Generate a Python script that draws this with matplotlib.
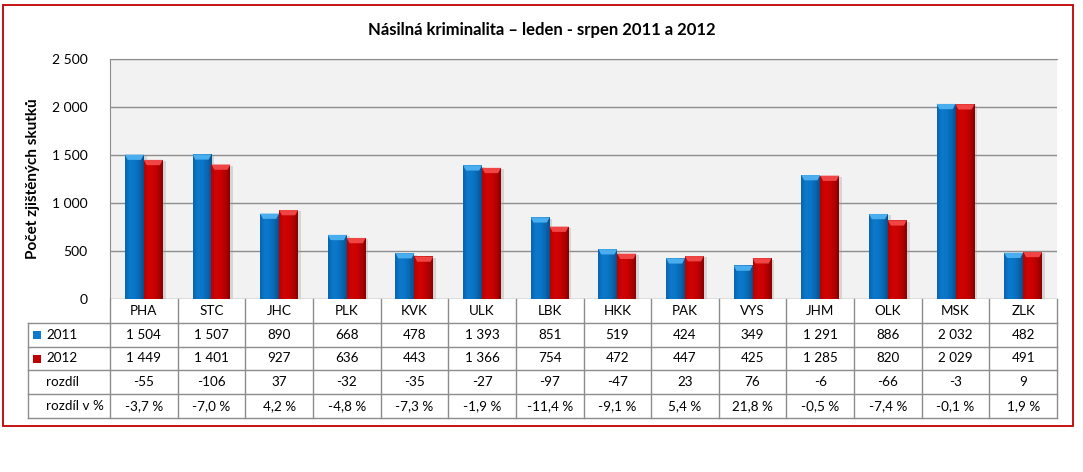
import numpy as np
import matplotlib
matplotlib.use("Agg")
import matplotlib.pyplot as plt
from matplotlib.patches import Rectangle, Polygon
from matplotlib.colors import LinearSegmentedColormap
import matplotlib.patheffects as pe
import matplotlib.transforms as mtransforms

plt.rcParams['font.family'] = ['Lato', 'DejaVu Sans']

title = "Násilná kriminalita – leden - srpen 2011 a 2012"
ylabel = "Počet zjištěných skutků"
regions = ["PHA", "STC", "JHC", "PLK", "KVK", "ULK", "LBK", "HKK", "PAK", "VYS", "JHM", "OLK", "MSK", "ZLK"]
v2011 = [1504, 1507, 890, 668, 478, 1393, 851, 519, 424, 349, 1291, 886, 2032, 482]
v2012 = [1449, 1401, 927, 636, 443, 1366, 754, 472, 447, 425, 1285, 820, 2029, 491]
diff = ["-55", "-106", "37", "-32", "-35", "-27", "-97", "-47", "23", "76", "-6", "-66", "-3", "9"]
diff_pct = ["-3,7 %", "-7,0 %", "4,2 %", "-4,8 %", "-7,3 %", "-1,9 %", "-11,4 %", "-9,1 %",
            "5,4 %", "21,8 %", "-0,5 %", "-7,4 %", "-0,1 %", "1,9 %"]
yticks = [0, 500, 1000, 1500, 2000, 2500]
ytick_labels = ["0", "500", "1 000", "1 500", "2 000", "2 500"]
row_labels = ["2011", "2012", "rozdíl", "rozdíl v %"]

def fmt(v):
    return f"{v:,}".replace(",", " ")

W, H = 1083, 472
fig = plt.figure(figsize=(W / 100, H / 100), dpi=100)
fig.patch.set_facecolor("white")

# red frame
fig.patches.append(Rectangle((3 / W, 1 - 426 / H), 1070 / W, 421 / H, transform=fig.transFigure,
                             fill=False, edgecolor="#C00000", linewidth=1.3, zorder=0))

L, R, T, B = 110, 1057, 59, 299
ax = fig.add_axes([L / W, 1 - B / H, (R - L) / W, (B - T) / H])
ax.set_facecolor("#F2F2F2")
n = len(regions)
x = np.arange(n)
ax.set_xlim(-0.5, n - 0.5)
ax.set_ylim(0, 2500)
ax.set_yticks(yticks)
ax.set_yticklabels(ytick_labels, fontsize=10)
ax.set_xticks([])
ax.tick_params(axis="y", length=0, pad=16)
ax.yaxis.grid(True, color="#8C8C8C", linewidth=1.0)
ax.set_axisbelow(True)
for s in ["right", "bottom"]:
    ax.spines[s].set_visible(False)
ax.spines["top"].set_color("#8C8C8C")
ax.spines["left"].set_color("#8C8C8C")

bw = 0.28
blue_cmap = LinearSegmentedColormap.from_list("b", ["#0A63AE", "#0B79CC", "#0B76C8", "#0867B3", "#0A4F8A"])
red_cmap = LinearSegmentedColormap.from_list("r", ["#B80000", "#CF0404", "#CC0202", "#B40000", "#860000"])
grad = np.linspace(0, 1, 64).reshape(1, -1)

def draw_bars(xs, vals, cmap, topcol):
    bars = ax.bar(xs, vals, width=bw, color=cmap(0.4), linewidth=0, zorder=3,
                  path_effects=[pe.SimplePatchShadow(offset=(2, -1), shadow_rgbFace="#A0A0A0", alpha=0.35),
                                pe.Normal()])
    for b in bars:
        x0, w, h = b.get_x(), b.get_width(), b.get_height()
        im = ax.imshow(grad, cmap=cmap, extent=[x0, x0 + w, 0, h], aspect="auto", zorder=4,
                       interpolation="bilinear")
        im.set_clip_path(b)
        cap = 55
        ax.add_patch(Polygon([[x0, h], [x0 + w, h], [x0 + w * 0.85, h - cap], [x0 + w * 0.15, h - cap]],
                             closed=True, facecolor=topcol, edgecolor="none", zorder=5))
    return bars

draw_bars(x - bw / 2, v2011, blue_cmap, "#4AAEEE")
draw_bars(x + bw / 2, v2012, red_cmap, "#F04545")

ax.set_ylabel(ylabel, fontsize=11, fontweight="bold", labelpad=8)
ax.yaxis.set_label_coords((40 - L) / (R - L), 0.5)

fig.text(0.5, 1 - 30 / H, title, ha="center", va="center", fontsize=12, fontweight="bold")

# data table below axes
trans = mtransforms.blended_transform_factory(ax.transData, ax.transAxes)
ph = B - T
row_px = [299, 323, 347, 370, 394, 418]
rows_ax = [-(p - B) / ph for p in row_px]
left_x = -0.5 - (L - 28) / ((R - L) / n)
lc = "#8C8C8C"
lw = 1.0
for yy in rows_ax[1:]:
    ax.plot([left_x, n - 0.5], [yy, yy], transform=trans, color=lc, lw=lw, clip_on=False)
for i in range(n + 1):
    ax.plot([i - 0.5, i - 0.5], [rows_ax[0], rows_ax[-1]], transform=trans, color=lc, lw=lw, clip_on=False)
ax.plot([left_x, left_x], [rows_ax[1], rows_ax[-1]], transform=trans, color=lc, lw=lw, clip_on=False)

def row_center(k):
    return (rows_ax[k] + rows_ax[k + 1]) / 2

fs = 9.7
for i in range(n):
    ax.text(x[i], row_center(0), regions[i], transform=trans, ha="center", va="center", fontsize=fs)
    ax.text(x[i], row_center(1), fmt(v2011[i]), transform=trans, ha="center", va="center", fontsize=fs)
    ax.text(x[i], row_center(2), fmt(v2012[i]), transform=trans, ha="center", va="center", fontsize=fs)
    ax.text(x[i], row_center(3), diff[i], transform=trans, ha="center", va="center", fontsize=fs)
    ax.text(x[i], row_center(4), diff_pct[i], transform=trans, ha="center", va="center", fontsize=fs)

unit = (R - L) / n
lab_x = left_x + (46 - 28) / unit
mk_x = left_x + (33 - 28) / unit
mk_w = 8 / unit
mk_h = 8 / ph
for k, lab in enumerate(row_labels):
    ax.text(lab_x, row_center(k + 1), lab, transform=trans, ha="left", va="center", fontsize=fs)
for k, col in [(1, "#0B79CC"), (2, "#C00000")]:
    ax.add_patch(Rectangle((mk_x, row_center(k) - mk_h / 2), mk_w, mk_h, transform=trans,
                           facecolor=col, edgecolor="none", clip_on=False))

fig.savefig("out.png", dpi=100)
